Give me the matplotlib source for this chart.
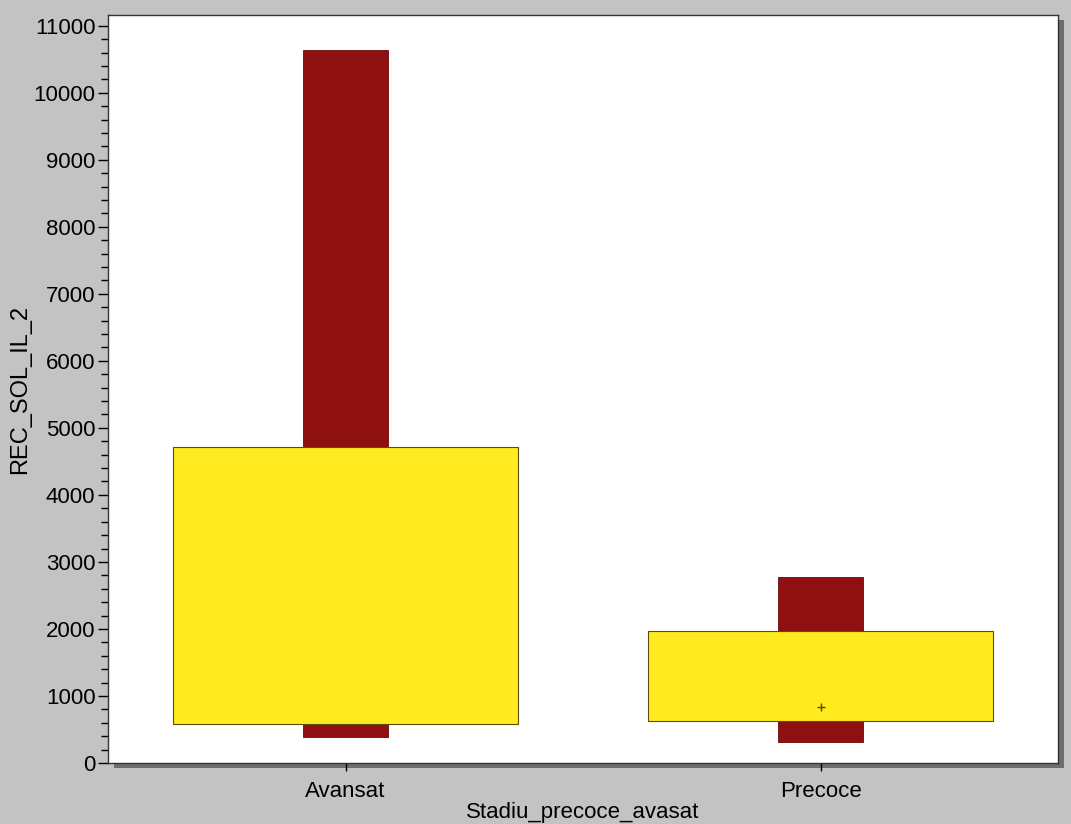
import matplotlib
matplotlib.use("Agg")
import matplotlib.pyplot as plt
from matplotlib.ticker import MultipleLocator

categories = ["Avansat", "Precoce"]
range_min = [390, 313]
range_max = [10640, 2776]
q_low = [582, 627]
q_high = [4716, 1970]
mean_marker = [None, 836]

plt.rcParams['font.family'] = ['Liberation Sans', 'DejaVu Sans']

fig = plt.figure(figsize=(10.71, 8.24), dpi=100, facecolor='#c3c3c3')
ax_pos = [108/1071, 61/824, 950/1071, 748/824]
# shadow
shadow_ax = fig.add_axes([ax_pos[0] + 6/1071, ax_pos[1] - 5/824, ax_pos[2], ax_pos[3]])
shadow_ax.set_facecolor('#6e6e6e')
shadow_ax.set_xticks([])
shadow_ax.set_yticks([])
for s in shadow_ax.spines.values():
    s.set_visible(False)
shadow_ax.set_zorder(0)

ax = fig.add_axes(ax_pos)
ax.set_zorder(1)
ax.set_facecolor('white')

x = list(range(len(categories)))
ax.bar(x, [mx - mn for mn, mx in zip(range_min, range_max)], bottom=range_min,
       width=0.177, color='#8e1010', edgecolor='#6a0a0a', linewidth=0.6, zorder=2)
ax.bar(x, [h - l for l, h in zip(q_low, q_high)], bottom=q_low,
       width=0.726, color='#ffeb1f', edgecolor='#5a5000', linewidth=0.8, zorder=3)
for xi, m in zip(x, mean_marker):
    if m is not None:
        ax.plot(xi, m, marker='+', color='#5a4a00', markersize=6, mew=1.0, zorder=4)

ax.set_xlim(-0.5, 1.5)
ax.set_ylim(0, 11160)
ax.set_xticks(x)
ax.set_xticklabels(categories, fontsize=16)
ax.yaxis.set_major_locator(MultipleLocator(1000))
ax.yaxis.set_minor_locator(MultipleLocator(200))
ax.tick_params(axis='y', which='major', length=7, width=1, labelsize=16, pad=2)
ax.tick_params(axis='y', which='minor', length=5, width=1)
ax.tick_params(axis='x', which='major', length=6, width=1, pad=7)
for s in ax.spines.values():
    s.set_color('#333333')
    s.set_linewidth(1)
ax.set_ylabel("REC_SOL_IL_2", fontsize=17, labelpad=2)
ax.set_xlabel("Stadiu_precoce_avasat", fontsize=16, labelpad=0)

fig.savefig("out.png", dpi=100, facecolor=fig.get_facecolor())
